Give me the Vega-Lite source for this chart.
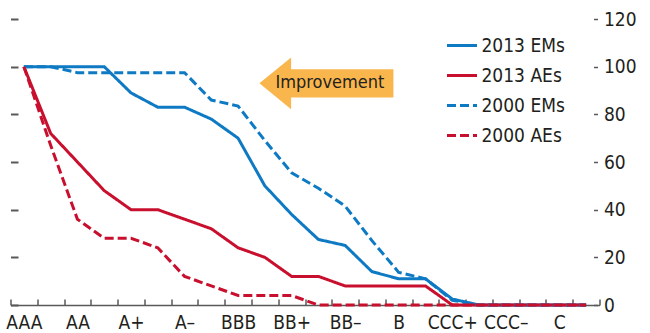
{
  "$schema": "https://vega.github.io/schema/vega-lite/v6.json",
  "autosize": {"type": "none"},
  "width": 589,
  "height": 286,
  "padding": {"left": 10.5, "top": 19, "right": 50.5, "bottom": 28},
  "background": "white",
  "config": {
    "view": {"stroke": null},
    "font": "DejaVu Sans Condensed, Liberation Sans, sans-serif",
    "axis": {"labelFont": "DejaVu Sans Condensed, Liberation Sans, sans-serif", "labelColor": "#231f20", "labelFontSize": 19, "grid": false, "title": null},
    "legend": {"labelFont": "DejaVu Sans Condensed, Liberation Sans, sans-serif"}
  },
  "datasets": {
    "main": [
      {"rating": "AAA", "series": "2013 EMs", "value": 100},
      {"rating": "AA+", "series": "2013 EMs", "value": 100},
      {"rating": "AA", "series": "2013 EMs", "value": 100},
      {"rating": "AA–", "series": "2013 EMs", "value": 100},
      {"rating": "A+", "series": "2013 EMs", "value": 89},
      {"rating": "A", "series": "2013 EMs", "value": 83},
      {"rating": "A–", "series": "2013 EMs", "value": 83},
      {"rating": "BBB+", "series": "2013 EMs", "value": 78},
      {"rating": "BBB", "series": "2013 EMs", "value": 70},
      {"rating": "BBB–", "series": "2013 EMs", "value": 50},
      {"rating": "BB+", "series": "2013 EMs", "value": 38},
      {"rating": "BB", "series": "2013 EMs", "value": 27.5},
      {"rating": "BB–", "series": "2013 EMs", "value": 25},
      {"rating": "B+", "series": "2013 EMs", "value": 14},
      {"rating": "B", "series": "2013 EMs", "value": 11},
      {"rating": "B–", "series": "2013 EMs", "value": 11},
      {"rating": "CCC+", "series": "2013 EMs", "value": 2.5},
      {"rating": "CCC", "series": "2013 EMs", "value": 0},
      {"rating": "CCC–", "series": "2013 EMs", "value": 0},
      {"rating": "CC", "series": "2013 EMs", "value": 0},
      {"rating": "C", "series": "2013 EMs", "value": 0},
      {"rating": "SD", "series": "2013 EMs", "value": 0},
      {"rating": "AAA", "series": "2013 AEs", "value": 100},
      {"rating": "AA+", "series": "2013 AEs", "value": 72},
      {"rating": "AA", "series": "2013 AEs", "value": 60},
      {"rating": "AA–", "series": "2013 AEs", "value": 48},
      {"rating": "A+", "series": "2013 AEs", "value": 40},
      {"rating": "A", "series": "2013 AEs", "value": 40},
      {"rating": "A–", "series": "2013 AEs", "value": 36},
      {"rating": "BBB+", "series": "2013 AEs", "value": 32},
      {"rating": "BBB", "series": "2013 AEs", "value": 24},
      {"rating": "BBB–", "series": "2013 AEs", "value": 20},
      {"rating": "BB+", "series": "2013 AEs", "value": 12},
      {"rating": "BB", "series": "2013 AEs", "value": 12},
      {"rating": "BB–", "series": "2013 AEs", "value": 8},
      {"rating": "B+", "series": "2013 AEs", "value": 8},
      {"rating": "B", "series": "2013 AEs", "value": 8},
      {"rating": "B–", "series": "2013 AEs", "value": 8},
      {"rating": "CCC+", "series": "2013 AEs", "value": 0},
      {"rating": "CCC", "series": "2013 AEs", "value": 0},
      {"rating": "CCC–", "series": "2013 AEs", "value": 0},
      {"rating": "CC", "series": "2013 AEs", "value": 0},
      {"rating": "C", "series": "2013 AEs", "value": 0},
      {"rating": "SD", "series": "2013 AEs", "value": 0},
      {"rating": "AAA", "series": "2000 EMs", "value": 100},
      {"rating": "AA+", "series": "2000 EMs", "value": 100},
      {"rating": "AA", "series": "2000 EMs", "value": 97.5},
      {"rating": "AA–", "series": "2000 EMs", "value": 97.5},
      {"rating": "A+", "series": "2000 EMs", "value": 97.5},
      {"rating": "A", "series": "2000 EMs", "value": 97.5},
      {"rating": "A–", "series": "2000 EMs", "value": 97.5},
      {"rating": "BBB+", "series": "2000 EMs", "value": 86},
      {"rating": "BBB", "series": "2000 EMs", "value": 83.5},
      {"rating": "BBB–", "series": "2000 EMs", "value": 69},
      {"rating": "BB+", "series": "2000 EMs", "value": 55.5},
      {"rating": "BB", "series": "2000 EMs", "value": 49},
      {"rating": "BB–", "series": "2000 EMs", "value": 41.5},
      {"rating": "B+", "series": "2000 EMs", "value": 27},
      {"rating": "B", "series": "2000 EMs", "value": 13.7},
      {"rating": "B–", "series": "2000 EMs", "value": 11},
      {"rating": "CCC+", "series": "2000 EMs", "value": 2},
      {"rating": "CCC", "series": "2000 EMs", "value": 0},
      {"rating": "CCC–", "series": "2000 EMs", "value": 0},
      {"rating": "CC", "series": "2000 EMs", "value": 0},
      {"rating": "C", "series": "2000 EMs", "value": 0},
      {"rating": "SD", "series": "2000 EMs", "value": 0},
      {"rating": "AAA", "series": "2000 AEs", "value": 100},
      {"rating": "AA+", "series": "2000 AEs", "value": 67},
      {"rating": "AA", "series": "2000 AEs", "value": 36},
      {"rating": "AA–", "series": "2000 AEs", "value": 28},
      {"rating": "A+", "series": "2000 AEs", "value": 28},
      {"rating": "A", "series": "2000 AEs", "value": 24},
      {"rating": "A–", "series": "2000 AEs", "value": 12},
      {"rating": "BBB+", "series": "2000 AEs", "value": 8},
      {"rating": "BBB", "series": "2000 AEs", "value": 4},
      {"rating": "BBB–", "series": "2000 AEs", "value": 4},
      {"rating": "BB+", "series": "2000 AEs", "value": 4},
      {"rating": "BB", "series": "2000 AEs", "value": 0},
      {"rating": "BB–", "series": "2000 AEs", "value": 0},
      {"rating": "B+", "series": "2000 AEs", "value": 0},
      {"rating": "B", "series": "2000 AEs", "value": 0},
      {"rating": "B–", "series": "2000 AEs", "value": 0},
      {"rating": "CCC+", "series": "2000 AEs", "value": 0},
      {"rating": "CCC", "series": "2000 AEs", "value": 0},
      {"rating": "CCC–", "series": "2000 AEs", "value": 0},
      {"rating": "CC", "series": "2000 AEs", "value": 0},
      {"rating": "C", "series": "2000 AEs", "value": 0},
      {"rating": "SD", "series": "2000 AEs", "value": 0}
    ],
    "note": [{"label": "Improvement", "rating": "BB", "value": 93}]
  },
  "layer": [
    {
      "data": {"name": "main"},
      "mark": {"type": "line", "strokeWidth": 3},
      "encoding": {
        "x": {
          "field": "rating", "type": "ordinal", "bandPosition": 0.5,
          "scale": {"type": "band", "paddingInner": 0, "paddingOuter": 0,
            "domain": ["AAA","AA+","AA","AA–","A+","A","A–","BBB+","BBB","BBB–","BB+","BB","BB–","B+","B","B–","CCC+","CCC","CCC–","CC","C","SD"]},
          "axis": {
            "tickBand": "extent", "tickSize": -6, "tickColor": "#58595b", "tickWidth": 1.5,
            "domainColor": "#58595b", "domainWidth": 1.5, "labelAngle": 0, "labelPadding": 14,
            "labelBaseline": "top", "labelAlign": "center", "labelOverlap": false,
            "labelExpr": "indexof(['AAA','AA','A+','A–','BBB','BB+','BB–','B','CCC+','CCC–','C'], datum.value) >= 0 ? datum.value : ''"
          }
        },
        "y": {
          "field": "value", "type": "quantitative",
          "scale": {"domain": [0, 120], "nice": false, "zero": true},
          "axis": {"orient": "right", "values": [0,20,40,60,80,100,120], "domain": false, "offset": -6, "tickSize": 4, "tickWidth": 1.5, "tickColor": "#58595b", "labelPadding": 6, "labelAlign": "left", "labelBaseline": "middle"}
        },
        "color": {
          "field": "series", "type": "nominal",
          "scale": {"domain": ["2013 EMs","2013 AEs","2000 EMs","2000 AEs"], "range": ["#0E7AC4","#C8102E","#0E7AC4","#C8102E"]},
          "legend": {"title": null, "orient": "none", "legendX": 435, "legendY": 10, "symbolType": "stroke", "symbolSize": 900, "symbolStrokeWidth": 3, "labelFontSize": 19, "labelColor": "#231f20", "rowPadding": 3, "labelOffset": 3}
        },
        "strokeDash": {
          "field": "series", "type": "nominal",
          "scale": {"domain": ["2013 EMs","2013 AEs","2000 EMs","2000 AEs"], "range": [[1,0],[1,0],[9,4],[9,4]]},
          "legend": {"title": null, "orient": "none", "legendX": 435, "legendY": 10, "symbolType": "stroke", "symbolSize": 900, "symbolStrokeWidth": 3, "labelFontSize": 19, "labelColor": "#231f20", "rowPadding": 3, "labelOffset": 3}
        }
      }
    },
    {
      "data": {"name": "note"},
      "mark": {"type": "point", "shape": "M-1,0L-0.527,-0.385L-0.527,-0.212L1,-0.212L1,0.212L-0.527,0.212L-0.527,0.385Z", "filled": true, "color": "#F9B64C", "opacity": 1, "size": 17956, "strokeJoin": "round"},
      "encoding": {
        "x": {"field": "rating", "type": "ordinal", "bandPosition": 0.8},
        "y": {"field": "value", "type": "quantitative",
          "axis": {"orient": "left", "values": [0,20,40,60,80,100,120], "labels": false, "domain": false, "offset": -7.5, "tickSize": 7.5, "tickWidth": 2, "tickColor": "#58595b"}}
      }
    },
    {
      "data": {"name": "note"},
      "mark": {"type": "text", "fontSize": 18, "color": "#231f20", "align": "center", "baseline": "middle"},
      "encoding": {
        "x": {"field": "rating", "type": "ordinal", "bandPosition": 0.93},
        "y": {"field": "value", "type": "quantitative", "axis": null},
        "text": {"field": "label"}
      }
    }
  ],
  "resolve": {"axis": {"y": "independent"}}
}
